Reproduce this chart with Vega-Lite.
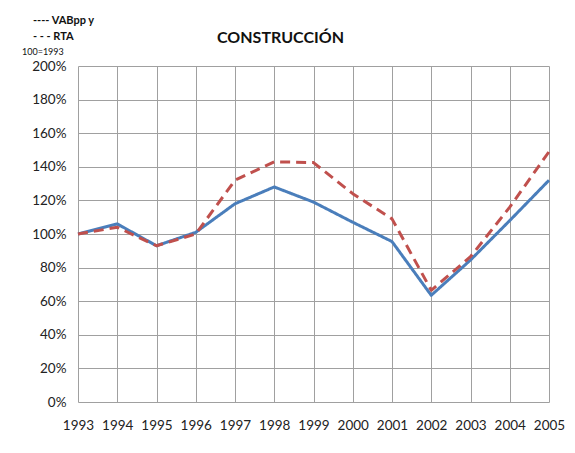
{
  "$schema": "https://vega.github.io/schema/vega-lite/v6.json",
  "width": 471,
  "height": 336,
  "autosize": {"type": "none"},
  "padding": {"left": 78, "top": 66, "right": 26, "bottom": 51},
  "background": "white",
  "config": {"view": {"stroke": null}, "font": "Lato"},
  "title": {
    "text": "CONSTRUCCIÓN",
    "font": "Lato",
    "fontSize": 16,
    "fontWeight": "bold",
    "color": "#111111",
    "anchor": "middle",
    "dx": -33,
    "baseline": "alphabetic",
    "offset": -44
  },
  "data": {
    "values": [
      {"year": 1993, "serie": "VABpp y", "value": 1.00},
      {"year": 1994, "serie": "VABpp y", "value": 1.06},
      {"year": 1995, "serie": "VABpp y", "value": 0.93},
      {"year": 1996, "serie": "VABpp y", "value": 1.01},
      {"year": 1997, "serie": "VABpp y", "value": 1.18},
      {"year": 1998, "serie": "VABpp y", "value": 1.28},
      {"year": 1999, "serie": "VABpp y", "value": 1.19},
      {"year": 2000, "serie": "VABpp y", "value": 1.07},
      {"year": 2001, "serie": "VABpp y", "value": 0.955},
      {"year": 2002, "serie": "VABpp y", "value": 0.635},
      {"year": 2003, "serie": "VABpp y", "value": 0.845},
      {"year": 2004, "serie": "VABpp y", "value": 1.08},
      {"year": 2005, "serie": "VABpp y", "value": 1.32},
      {"year": 1993, "serie": "RTA", "value": 1.00},
      {"year": 1994, "serie": "RTA", "value": 1.04},
      {"year": 1995, "serie": "RTA", "value": 0.93},
      {"year": 1996, "serie": "RTA", "value": 1.00},
      {"year": 1997, "serie": "RTA", "value": 1.32},
      {"year": 1998, "serie": "RTA", "value": 1.43},
      {"year": 1999, "serie": "RTA", "value": 1.425},
      {"year": 2000, "serie": "RTA", "value": 1.24},
      {"year": 2001, "serie": "RTA", "value": 1.09},
      {"year": 2002, "serie": "RTA", "value": 0.665},
      {"year": 2003, "serie": "RTA", "value": 0.865},
      {"year": 2004, "serie": "RTA", "value": 1.16},
      {"year": 2005, "serie": "RTA", "value": 1.49}
    ]
  },
  "mark": {"type": "line", "strokeWidth": 3, "strokeCap": "butt", "strokeJoin": "round"},
  "encoding": {
    "x": {
      "field": "year",
      "type": "quantitative",
      "scale": {"domain": [1993, 2005], "nice": false, "zero": false},
      "axis": {
        "title": null,
        "values": [1993, 1994, 1995, 1996, 1997, 1998, 1999, 2000, 2001, 2002, 2003, 2004, 2005],
        "format": "d",
        "labelFlush": false,
        "labelFont": "Lato",
        "labelFontSize": 13.5,
        "labelColor": "#222222",
        "labelPadding": 16,
        "domain": false,
        "ticks": false,
        "grid": true,
        "gridColor": "#a0a0a0",
        "gridWidth": 1
      }
    },
    "y": {
      "field": "value",
      "type": "quantitative",
      "scale": {"domain": [0, 2], "nice": false},
      "axis": {
        "title": null,
        "values": [0, 0.2, 0.4, 0.6, 0.8, 1.0, 1.2, 1.4, 1.6, 1.8, 2.0],
        "format": ".0%",
        "labelFont": "Lato",
        "labelFontSize": 13.5,
        "labelColor": "#222222",
        "labelPadding": 12,
        "domain": false,
        "ticks": false,
        "grid": true,
        "gridColor": "#a0a0a0",
        "gridWidth": 1
      }
    },
    "color": {
      "field": "serie",
      "type": "nominal",
      "scale": {"domain": ["VABpp y", "RTA"], "range": ["#4a7ebb", "#c0504d"]},
      "legend": {
        "orient": "none",
        "legendX": -56,
        "legendY": -51,
        "title": "100=1993",
        "titleOrient": "bottom",
        "titleFont": "Lato",
        "titleFontSize": 9,
        "titleFontWeight": "normal",
        "titleColor": "#111111",
        "titlePadding": 6,
        "symbolSize": 0,
        "symbolOpacity": 0,
        "symbolStrokeWidth": 0,
        "labelOffset": 0,
        "labelFont": "Lato",
        "labelFontSize": 11,
        "labelFontWeight": "bold",
        "labelColor": "#111111",
        "rowPadding": 4,
        "labelExpr": "datum.label == 'VABpp y' ? '---- VABpp y' : '- - - RTA'"
      }
    },
    "strokeDash": {
      "field": "serie",
      "type": "nominal",
      "scale": {"domain": ["VABpp y", "RTA"], "range": [[1, 0], [10, 6]]},
      "legend": null
    }
  }
}
